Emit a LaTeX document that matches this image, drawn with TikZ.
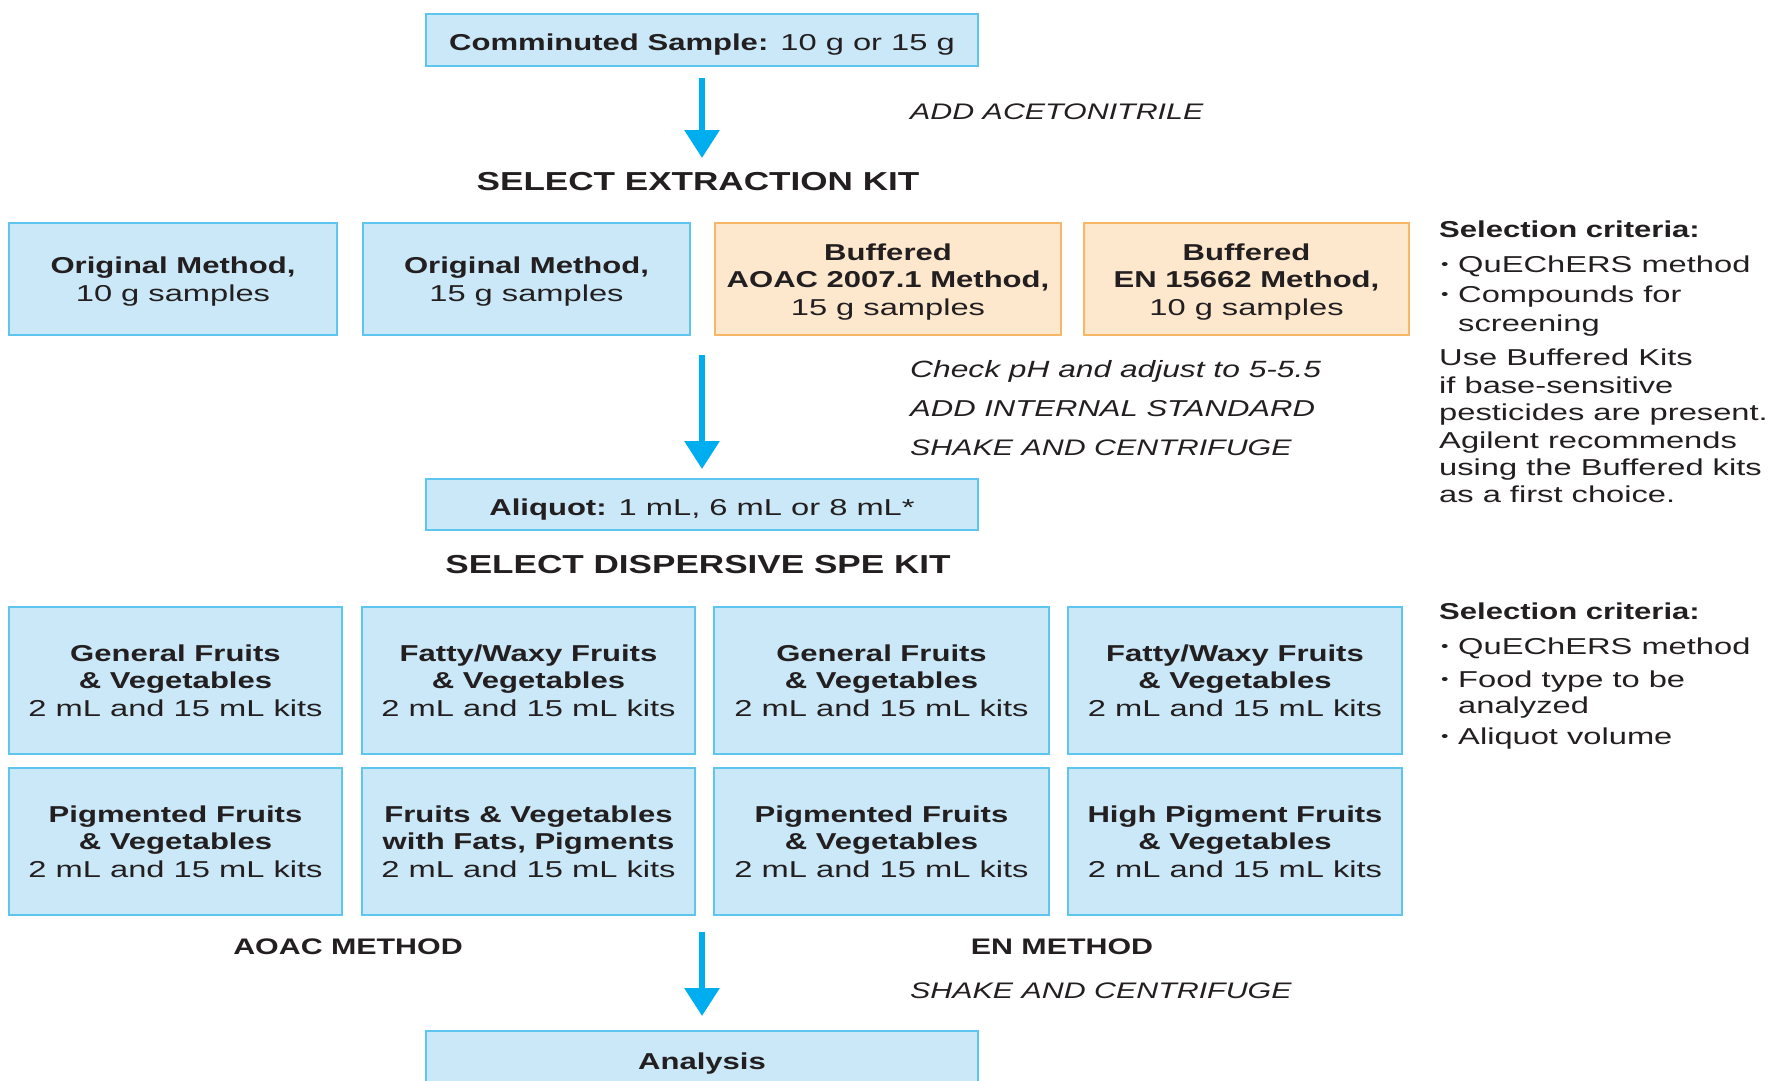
\documentclass[tikz,border=0pt]{standalone}
\usepackage{fontspec}
\setmainfont{Liberation Sans}[
  UprightFeatures={FakeStretch=1.42},
  BoldFeatures={FakeStretch=1.35},
  ItalicFeatures={FakeStretch=1.35},
  BoldItalicFeatures={FakeStretch=1.35}]
\usetikzlibrary{arrows.meta}

\definecolor{ink}{HTML}{231F20}
\definecolor{boxfill}{HTML}{CAE8F7}
\definecolor{boxline}{HTML}{5EC5EE}
\definecolor{buffill}{HTML}{FDE8CE}
\definecolor{bufline}{HTML}{F8B766}
\definecolor{flowcyan}{HTML}{00AEEF}

% invisible strut that lowers the text block of a box a little
\newcommand{\toppad}{\rule{0pt}{22pt}}

\begin{document}
\begin{tikzpicture}[x=1pt,y=-1pt,
  every node/.style={text=ink},
  kit/.style={draw=boxline, fill=boxfill, line width=2pt, align=center,
    inner sep=0pt, font=\fontsize{23}{27.5}\selectfont},
  bufkit/.style={kit, draw=bufline, fill=buffill},
  oneline/.style={text height=21pt, text depth=0pt},
  note/.style={anchor=west, inner sep=0pt, font=\fontsize{22.5}{27}\selectfont\itshape},
  heading/.style={inner sep=0pt, font=\fontsize{26}{30}\selectfont\bfseries},
  method/.style={inner sep=0pt, font=\fontsize{22.5}{27}\selectfont\bfseries},
  crit/.style={anchor=base west, inner sep=0pt, font=\fontsize{23}{27}\selectfont},
  dot/.style={anchor=base west, inner sep=0pt, font=\fontsize{15}{15}\selectfont},
  flow/.style={draw=flowcyan, line width=6pt, -{Triangle[width=34pt,length=28pt]}}
]
\useasboundingbox (0,0) rectangle (1772,1080);

% ---- sample and extraction step ----
\node[kit, oneline, minimum width=552pt, minimum height=52pt] (top) at (702,40)
  {\textbf{Comminuted Sample:} 10 g or 15 g};
\coordinate (a1end) at (702,158);
\draw[flow] ([yshift=-11pt]top.south) -- (a1end);
\node[note] (acn) at (910,112) {ADD ACETONITRILE};
\node[heading] (hd1) at (698,182) {SELECT EXTRACTION KIT};

% ---- extraction kits ----
\node[kit, minimum width=328pt, minimum height=112pt] (ex1) at (173,279)
  {\toppad\textbf{Original Method,}\\10 g samples};
\node[kit, minimum width=327pt, minimum height=112pt] (ex2) at (526.5,279)
  {\toppad\textbf{Original Method,}\\15 g samples};
\node[bufkit, minimum width=346pt, minimum height=112pt] (ex3) at (888,279)
  {\toppad\textbf{Buffered}\\\textbf{AOAC 2007.1 Method,}\\15 g samples};
\node[bufkit, minimum width=325pt, minimum height=112pt] (ex4) at (1246.5,279)
  {\toppad\textbf{Buffered}\\\textbf{EN 15662 Method,}\\10 g samples};

% ---- selection criteria for the extraction kits ----
\node[crit, font=\fontsize{23}{27}\selectfont\bfseries] (c1h) at (1439,237) {Selection criteria:};
\node[dot] (c1d1) at (1441,269) {•};
\node[crit] (c1a) at (1458,272) {QuEChERS method};
\node[dot] (c1d2) at (1441,299) {•};
\node[crit] (c1b) at (1458,302) {Compounds for};
\node[crit] (c1c) at (1458,331) {screening};
\node[crit] (c1e) at (1439,365) {Use Buffered Kits};
\node[crit] (c1f) at (1439,393) {if base-sensitive};
\node[crit] (c1g) at (1439,420) {pesticides are present.};
\node[crit] (c1i) at (1439,448) {Agilent recommends};
\node[crit] (c1j) at (1439,475) {using the Buffered kits};
\node[crit] (c1k) at (1439,502) {as a first choice.};

% ---- aliquot step ----
\node[kit, oneline, minimum width=552pt, minimum height=51pt] (aliq) at (702,504.5)
  {\textbf{Aliquot:} 1 mL, 6 mL or 8 mL*};
\coordinate (a2start) at (702,355);
\draw[flow] (a2start) -- ([yshift=9pt]aliq.north);
\node[note, font=\fontsize{23.5}{27}\selectfont\itshape] (ph) at (910,371) {Check pH and adjust to 5-5.5};
\node[note, font=\fontsize{23}{27}\selectfont\itshape] (istd) at (910,409) {ADD INTERNAL STANDARD};
\node[note] (shk1) at (910,448) {SHAKE AND CENTRIFUGE};
\node[heading] (hd2) at (698,565) {SELECT DISPERSIVE SPE KIT};

% ---- dispersive SPE kits ----
\node[kit, minimum width=333pt, minimum height=147pt] (sp1) at (175.5,680.5)
  {\textbf{General Fruits}\\\textbf{\& Vegetables}\\2 mL and 15 mL kits};
\node[kit, minimum width=333pt, minimum height=147pt] (sp2) at (528.5,680.5)
  {\textbf{Fatty/Waxy Fruits}\\\textbf{\& Vegetables}\\2 mL and 15 mL kits};
\node[kit, minimum width=335pt, minimum height=147pt] (sp3) at (881.5,680.5)
  {\textbf{General Fruits}\\\textbf{\& Vegetables}\\2 mL and 15 mL kits};
\node[kit, minimum width=334pt, minimum height=147pt] (sp4) at (1235,680.5)
  {\textbf{Fatty/Waxy Fruits}\\\textbf{\& Vegetables}\\2 mL and 15 mL kits};
\node[kit, minimum width=333pt, minimum height=147pt] (sp5) at (175.5,841.5)
  {\textbf{Pigmented Fruits}\\\textbf{\& Vegetables}\\2 mL and 15 mL kits};
\node[kit, minimum width=333pt, minimum height=147pt] (sp6) at (528.5,841.5)
  {\textbf{Fruits \& Vegetables}\\\textbf{with Fats, Pigments}\\2 mL and 15 mL kits};
\node[kit, minimum width=335pt, minimum height=147pt] (sp7) at (881.5,841.5)
  {\textbf{Pigmented Fruits}\\\textbf{\& Vegetables}\\2 mL and 15 mL kits};
\node[kit, minimum width=334pt, minimum height=147pt] (sp8) at (1235,841.5)
  {\textbf{High Pigment Fruits}\\\textbf{\& Vegetables}\\2 mL and 15 mL kits};

% ---- selection criteria for the SPE kits ----
\node[crit, font=\fontsize{23}{27}\selectfont\bfseries] (c2h) at (1439,619) {Selection criteria:};
\node[dot] (c2d1) at (1441,651) {•};
\node[crit] (c2a) at (1458,654) {QuEChERS method};
\node[dot] (c2d2) at (1441,684) {•};
\node[crit] (c2b) at (1458,687) {Food type to be};
\node[crit] (c2c) at (1458,713) {analyzed};
\node[dot] (c2d3) at (1441,741) {•};
\node[crit] (c2e) at (1458,744) {Aliquot volume};

% ---- final step ----
\node[method] (aoac) at (348,947) {AOAC METHOD};
\node[method] (en) at (1062,947) {EN METHOD};
\node[kit, oneline, text height=17pt, minimum width=552pt, minimum height=60pt] (ana) at (702,1061)
  {\textbf{Analysis}};
\coordinate (a3start) at (702,932);
\draw[flow] (a3start) -- ([yshift=14pt]ana.north);
\node[note] (shk2) at (910,991) {SHAKE AND CENTRIFUGE};
\end{tikzpicture}
\end{document}
